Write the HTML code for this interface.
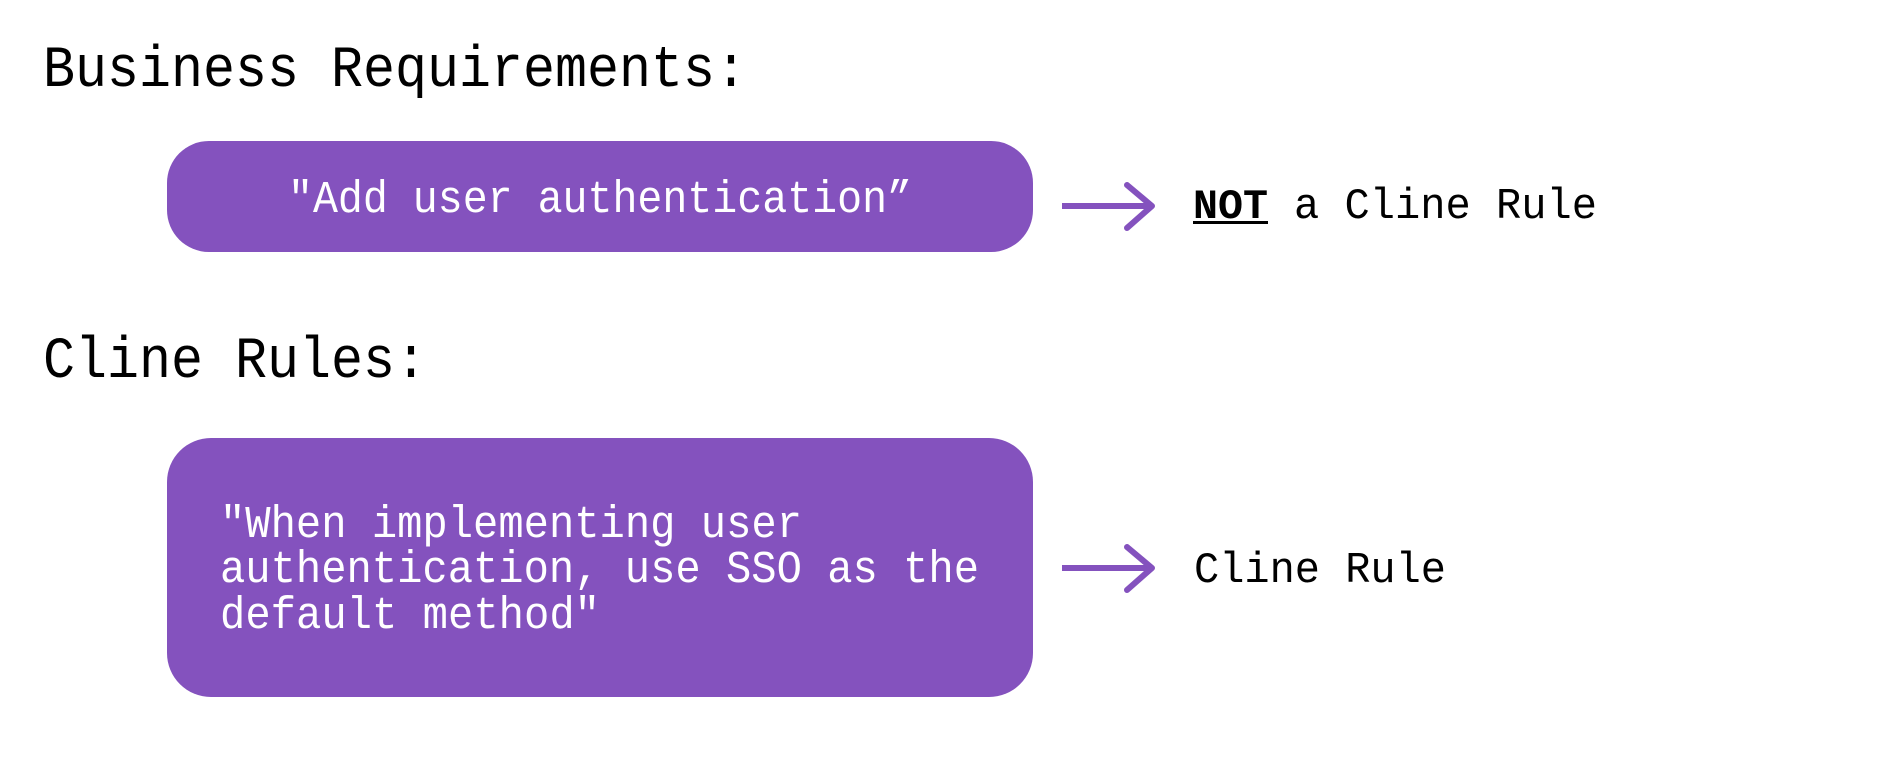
<!DOCTYPE html>
<html><head><meta charset="utf-8"><style>
html,body{margin:0;padding:0;background:#fff;width:1889px;height:773px;overflow:hidden}
svg{display:block}
text{font-family:"Liberation Mono",monospace}
</style></head><body>
<svg width="1889" height="773" viewBox="0 0 1889 773" xmlns="http://www.w3.org/2000/svg">
<text x="43" y="86" font-size="58" fill="#000" textLength="704" lengthAdjust="spacingAndGlyphs">Business Requirements:</text>
<rect x="167" y="141" width="866" height="111" rx="42" fill="#8452BE"/>
<text x="288" y="212" font-size="45" fill="#fff" textLength="624" lengthAdjust="spacingAndGlyphs">"Add user authentication”</text>
<text x="43" y="377" font-size="58" fill="#000" textLength="384" lengthAdjust="spacingAndGlyphs">Cline Rules:</text>
<rect x="167" y="438" width="866" height="259" rx="44" fill="#8452BE"/>
<text font-size="45" fill="#fff">
<tspan x="220" y="537" textLength="582" lengthAdjust="spacingAndGlyphs">"When implementing user</tspan>
<tspan x="220" y="582" textLength="759" lengthAdjust="spacingAndGlyphs">authentication, use SSO as the</tspan>
<tspan x="220" y="628" textLength="380" lengthAdjust="spacingAndGlyphs">default method"</tspan>
</text>
<g stroke="#8452BE" stroke-width="6" fill="none" stroke-linecap="round" stroke-linejoin="round">
<line x1="1062" y1="206" x2="1152" y2="206" stroke-linecap="butt"/>
<polyline points="1127,185 1152,206 1127,228"/>
<line x1="1062" y1="568" x2="1152" y2="568" stroke-linecap="butt"/>
<polyline points="1127,547 1152,568 1127,590"/>
</g>
<text x="1193" y="218" font-size="42" fill="#000" font-weight="bold" textLength="75" lengthAdjust="spacingAndGlyphs">NOT</text>
<rect x="1193" y="221" width="75" height="3" fill="#000"/>
<text x="1294" y="218" font-size="44" fill="#000" textLength="303" lengthAdjust="spacingAndGlyphs">a Cline Rule</text>
<text x="1194" y="582" font-size="44" fill="#000" textLength="252" lengthAdjust="spacingAndGlyphs">Cline Rule</text>
</svg>
</body></html>
